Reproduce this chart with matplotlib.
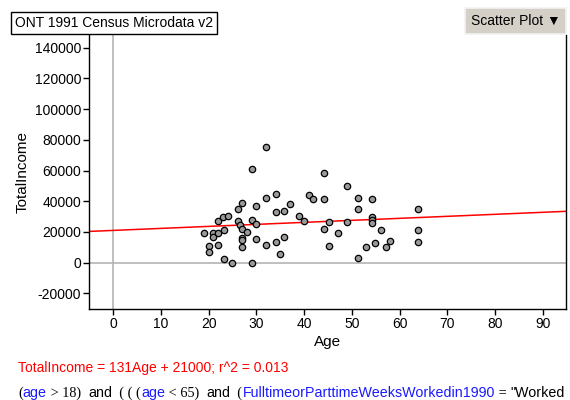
import matplotlib
matplotlib.use("Agg")
import matplotlib.pyplot as plt
import numpy as np

plt.rcParams['font.family'] = ['Liberation Sans', 'DejaVu Sans']
plt.rcParams['axes.unicode_minus'] = False

# ---- data ----
ages = [19.0, 20.1, 20.1, 20.8, 20.8, 21.9, 21.9, 21.9, 22.9, 23.1, 23.1, 24.0,
        24.9, 26.1, 26.1, 26.9, 26.6, 26.9, 26.9, 26.9, 26.9, 28.0, 29.0, 29.0,
        29.9, 29.9, 29.9, 29.0, 32.0, 32.0, 32.0, 34.0, 34.0, 34.0, 35.0, 35.8,
        35.8, 37.0, 38.9, 40.0, 41.0, 41.9, 44.1, 44.1, 44.1, 45.2, 45.2, 47.1,
        49.0, 49.0, 51.2, 51.2, 51.2, 53.0, 54.2, 54.2, 54.2, 54.2, 54.9, 56.1,
        57.1, 58.0, 63.9, 63.9, 63.9]
incomes = [19350, 11000, 6800, 19350, 17000, 19350, 11700, 27200, 29600, 21100, 2600, 30400,
           -200, 34800, 27200, 39100, 24600, 22000, 16100, 15000, 10200, 20200, 60800, 28000,
           37100, 25400, 15200, -200, 75200, 42300, 11700, 44900, 33000, 13500, 5900, 33900,
           17000, 38200, 30400, 27200, 44100, 41500, 58400, 41500, 22000, 26300, 11000, 19350,
           50000, 26300, 42300, 34800, 3300, 10200, 41500, 30000, 27800, 25700, 13000, 21100,
           10000, 14300, 34800, 21100, 13500]
slope = 131
intercept = 21000
xticks = [0, 10, 20, 30, 40, 50, 60, 70, 80, 90]
yticks = [-20000, 0, 20000, 40000, 60000, 80000, 100000, 120000, 140000]
xlim = (-5.1, 94.9)
ylim = (-30200, 148300)

fig = plt.figure(figsize=(5.7, 4.0), dpi=100)
ax = fig.add_axes([89/570, 1-309/400, (566-89)/570, (309-35)/400])

ax.axvline(0, color='#b4b4b4', lw=1.2, zorder=1)
ax.axhline(0, color='#b4b4b4', lw=1.2, zorder=1)

xs = np.array(xlim)
ax.plot(xs, slope*xs + intercept, color='#ff0000', lw=1.1, zorder=2)

ax.scatter(ages, incomes, s=21, facecolor='#999999', edgecolor='black',
           linewidths=0.9, zorder=3)

ax.set_xlim(*xlim)
ax.set_ylim(*ylim)
ax.set_xticks(xticks)
ax.set_yticks(yticks)
ax.tick_params(direction='out', length=4, width=1, labelsize=10, pad=1.5, colors='black')
ax.spines['top'].set_visible(False)
for s in ['left', 'bottom', 'right']:
    ax.spines[s].set_linewidth(1)

ax.set_xlabel('Age', fontsize=11, labelpad=3)
ax.set_ylabel('TotalIncome', fontsize=11, labelpad=4)

# title box
fig.text(15/570, 1-23/400, 'ONT 1991 Census Microdata v2', fontsize=10,
         ha='left', va='center',
         bbox=dict(boxstyle='square,pad=0.3', facecolor='white', edgecolor='black', lw=1))

# scatter plot button
fig.text(471/570, 1-21/400, 'Scatter Plot \u25bc', fontsize=10, ha='left', va='center',
         bbox=dict(boxstyle='square,pad=0.4', facecolor='#d4d0c8', edgecolor='#f2f2f2', lw=1.2))

# regression equation
fig.text(18/570, 1-368/400, 'TotalIncome = 131Age + 21000; r^2 = 0.013',
         color='#ff0000', fontsize=10, ha='left', va='center')

# filter line (mixed fonts / colours)
serif = ['Liberation Serif', 'DejaVu Serif']
pieces = [('(', 'black', serif), ('age', '#1a1aff', None), (' > 18)  ', 'black', serif),
          ('and', 'black', None), ('  ( ( (', 'black', serif), ('age', '#1a1aff', None),
          (' < 65)  ', 'black', serif), ('and', 'black', None), ('  (', 'black', serif),
          ('FulltimeorParttimeWeeksWorkedin1990', '#1a1aff', None),
          (' = ', 'black', serif), ('"Worked', 'black', None)]

fig.canvas.draw()
renderer = fig.canvas.get_renderer()
x = 18
y_base = 397
for txt, col, fam in pieces:
    kw = dict(color=col, fontsize=10.3, va='baseline', ha='left')
    if fam is not None:
        kw['family'] = fam
    t = fig.text(x/570, 1-y_base/400, txt, **kw)
    bb = t.get_window_extent(renderer=renderer)
    x += bb.width

fig.savefig('out.png', dpi=100)
